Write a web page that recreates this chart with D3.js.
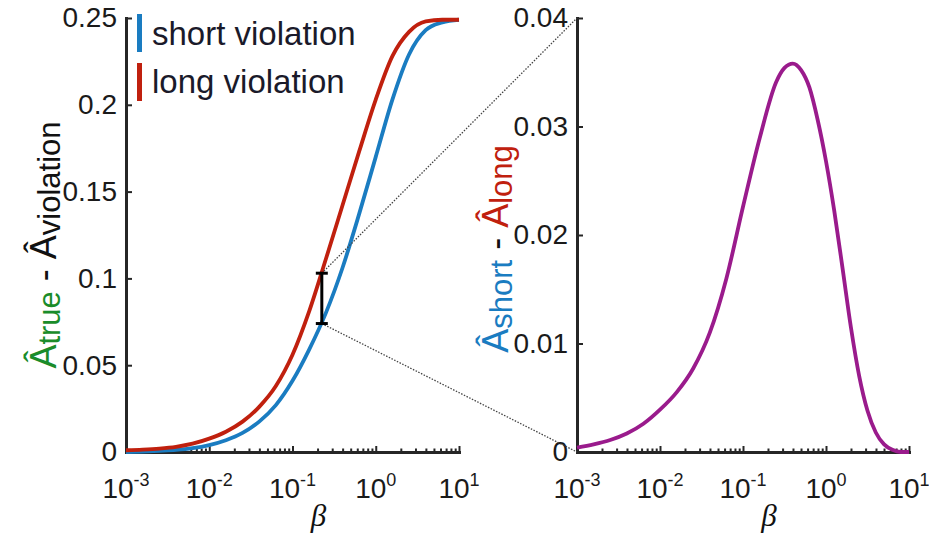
<!DOCTYPE html>
<html>
<head>
<meta charset="utf-8">
<script src="https://cdn.jsdelivr.net/npm/d3@7"></script>
<style>
  body { margin: 0; background: #fff; }
  svg { font-family: "Liberation Sans", Arial, sans-serif; }
</style>
</head>
<body>
<svg id="chart" width="929" height="535"></svg>
<script>
// log10(beta) sample points, left panel
const betaExp = [-3, -2.8, -2.6, -2.4, -2.2, -2, -1.8, -1.6, -1.4, -1.2, -1, -0.8, -0.6, -0.4, -0.2, 0, 0.2, 0.4, 0.6, 0.8, 1];
const shortViolation = [0.0, 0.0003, 0.0007, 0.0012, 0.0022, 0.004, 0.0068, 0.011, 0.0175, 0.027, 0.041, 0.059, 0.080, 0.106, 0.137, 0.170, 0.203, 0.229, 0.243, 0.2475, 0.249];
const longViolation = [0.001, 0.0014, 0.002, 0.003, 0.0048, 0.0077, 0.0117, 0.0175, 0.026, 0.038, 0.056, 0.081, 0.111, 0.142, 0.173, 0.203, 0.228, 0.242, 0.248, 0.249, 0.249];

// log10(beta) sample points, right panel
const diffExp = [-3, -2.8, -2.6, -2.4, -2.2, -2, -1.8, -1.6, -1.4, -1.2, -1, -0.8, -0.6, -0.5, -0.4, -0.3, -0.2, -0.1, 0, 0.1, 0.2, 0.3, 0.4, 0.5, 0.6, 0.7, 0.8, 0.9, 1];
const shortMinusLong = [0.0004, 0.0007, 0.0011, 0.0017, 0.0026, 0.0039, 0.0055, 0.0077, 0.011, 0.016, 0.0226, 0.0289, 0.0341, 0.0354, 0.0358, 0.0352, 0.0336, 0.0306, 0.0268, 0.0222, 0.0169, 0.0115, 0.0070, 0.0038, 0.0018, 0.0007, 0.0002, 0.0, 0.0];

const xTickExp = [-3, -2, -1, 0, 1];
const leftYTicks = [0, 0.05, 0.1, 0.15, 0.2, 0.25];
const rightYTicks = [0, 0.01, 0.02, 0.03, 0.04];

// the zoomed gap marked by the error bar
const zoomBeta = 0.225;
const zoomRange = [0.074, 0.103];

const colors = {
  short: '#1a7cc1',
  long: '#c0200e',
  diff: '#9a1b8c',
  green: '#1a8c2a',
  axis: '#262626'
};

const svg = d3.select('#chart');

const xL = d3.scaleLog().domain([1e-3, 10]).range([126, 459]);
const yL = d3.scaleLinear().domain([0, 0.25]).range([452, 18]);
const xR = d3.scaleLog().domain([1e-3, 10]).range([577, 909]);
const yR = d3.scaleLinear().domain([0, 0.04]).range([452, 18]);

const minorTicks = [];
xTickExp.slice(0, -1).forEach((e) => {
  for (let k = 2; k <= 9; k++) minorTicks.push(k * Math.pow(10, e));
});
const majorTicks = xTickExp.map((e) => Math.pow(10, e));

function drawAxes(x, y, yTicks) {
  const y0 = y.range()[0];
  const x0 = x.range()[0];

  svg.append('g')
    .attr('transform', `translate(0, ${y0})`)
    .call(d3.axisBottom(x).tickValues(minorTicks).tickSize(-3.5).tickSizeOuter(0).tickFormat(''))
    .call((g) => g.select('.domain').remove());

  svg.append('g')
    .attr('transform', `translate(0, ${y0})`)
    .call(d3.axisBottom(x).tickValues(majorTicks).tickSize(-6).tickSizeOuter(0).tickFormat(''));

  const ya = svg.append('g')
    .attr('transform', `translate(${x0}, 0)`)
    .call(d3.axisLeft(y).tickValues(yTicks).tickSize(-6).tickSizeOuter(0).tickPadding(9)
      .tickFormat((d) => String(d)));

  svg.selectAll('.domain')
    .attr('stroke', colors.axis)
    .attr('stroke-width', 3)
    .attr('stroke-linecap', 'square');
  svg.selectAll('.tick line')
    .attr('stroke', colors.axis)
    .attr('stroke-width', 2);

  ya.selectAll('text')
    .attr('font-size', 28)
    .attr('fill', '#1a1a1a');

  // x tick labels as 10^n
  const lab = svg.append('g');
  xTickExp.forEach((e) => {
    const t = lab.append('text')
      .attr('x', x(Math.pow(10, e)))
      .attr('y', y0 + 46)
      .attr('text-anchor', 'middle')
      .attr('fill', '#1a1a1a')
      .attr('font-size', 28);
    t.append('tspan').text('10');
    t.append('tspan').attr('dy', -12).attr('font-size', 18).text(String(e));
  });

  // beta label
  svg.append('text')
    .attr('x', (x.range()[0] + x.range()[1]) / 2 + 26)
    .attr('y', y0 + 74)
    .attr('text-anchor', 'middle')
    .attr('font-family', '"Liberation Serif", "DejaVu Serif", serif')
    .attr('font-style', 'italic')
    .attr('font-size', 31)
    .attr('fill', '#111')
    .text('β');
}

drawAxes(xL, yL, leftYTicks);
drawAxes(xR, yR, rightYTicks);

// curves
const lineL = d3.line()
  .x((d) => xL(Math.pow(10, d[0])))
  .y((d) => yL(d[1]))
  .curve(d3.curveMonotoneX);
const lineR = d3.line()
  .x((d) => xR(Math.pow(10, d[0])))
  .y((d) => yR(d[1]))
  .curve(d3.curveMonotoneX);

svg.append('path')
  .datum(betaExp.map((e, i) => [e, shortViolation[i]]))
  .attr('d', lineL)
  .attr('fill', 'none')
  .attr('stroke', colors.short)
  .attr('stroke-width', 3.8);

svg.append('path')
  .datum(betaExp.map((e, i) => [e, longViolation[i]]))
  .attr('d', lineL)
  .attr('fill', 'none')
  .attr('stroke', colors.long)
  .attr('stroke-width', 3.8);

svg.append('path')
  .datum(diffExp.map((e, i) => [e, shortMinusLong[i]]))
  .attr('d', lineR)
  .attr('fill', 'none')
  .attr('stroke', colors.diff)
  .attr('stroke-width', 3.8);

// error bar and the dotted zoom lines
const ex = xL(zoomBeta);
const eTop = yL(zoomRange[1]);
const eBot = yL(zoomRange[0]);

svg.append('line')
  .attr('x1', ex).attr('x2', xR.range()[0])
  .attr('y1', eTop).attr('y2', yR.range()[1])
  .attr('stroke', '#444').attr('stroke-width', 1.3).attr('stroke-dasharray', '1.5 1.5');
svg.append('line')
  .attr('x1', ex).attr('x2', xR.range()[0])
  .attr('y1', eBot).attr('y2', yR.range()[0])
  .attr('stroke', '#444').attr('stroke-width', 1.3).attr('stroke-dasharray', '1.5 1.5');

const eb = svg.append('g').attr('stroke', '#000').attr('stroke-width', 3);
eb.append('line').attr('x1', ex).attr('x2', ex).attr('y1', eTop).attr('y2', eBot);
eb.append('line').attr('x1', ex - 6).attr('x2', ex + 6).attr('y1', eTop).attr('y2', eTop);
eb.append('line').attr('x1', ex - 6).attr('x2', ex + 6).attr('y1', eBot).attr('y2', eBot);

// legend
const legendItems = [
  { label: 'short violation', color: colors.short },
  { label: 'long violation', color: colors.long }
];
const legend = svg.append('g').attr('transform', 'translate(137, 14)');
legendItems.forEach((d, i) => {
  legend.append('rect')
    .attr('x', 0).attr('y', i * 49)
    .attr('width', 5).attr('height', 38)
    .attr('fill', d.color);
  legend.append('text')
    .attr('x', 15).attr('y', i * 48 + 31)
    .attr('font-size', 33)
    .attr('fill', '#1a1a2a')
    .text(d.label);
});

// y-axis titles
function yTitle(cx, cy, parts) {
  const t = svg.append('text')
    .attr('transform', `translate(${cx}, ${cy}) rotate(-90)`)
    .attr('text-anchor', 'middle')
    .attr('font-size', 36);
  parts.forEach((p) => {
    const s = t.append('tspan').attr('fill', p.color).text(p.text);
    if (p.sub) s.attr('font-size', 31).attr('dy', p.dy);
    else if (p.dy) s.attr('dy', p.dy);
  });
}

yTitle(56, 245, [
  { text: 'Â', color: colors.green },
  { text: 'true', color: colors.green, sub: true, dy: 4 },
  { text: ' - ', color: '#111', dy: -4 },
  { text: 'Â', color: '#111' },
  { text: 'violation', color: '#111', sub: true, dy: 4 }
]);

yTitle(508, 249, [
  { text: 'Â', color: colors.short },
  { text: 'short', color: colors.short, sub: true, dy: 4 },
  { text: ' - ', color: '#111', dy: -4 },
  { text: 'Â', color: colors.long },
  { text: 'long', color: colors.long, sub: true, dy: 4 }
]);
</script>
</body>
</html>
